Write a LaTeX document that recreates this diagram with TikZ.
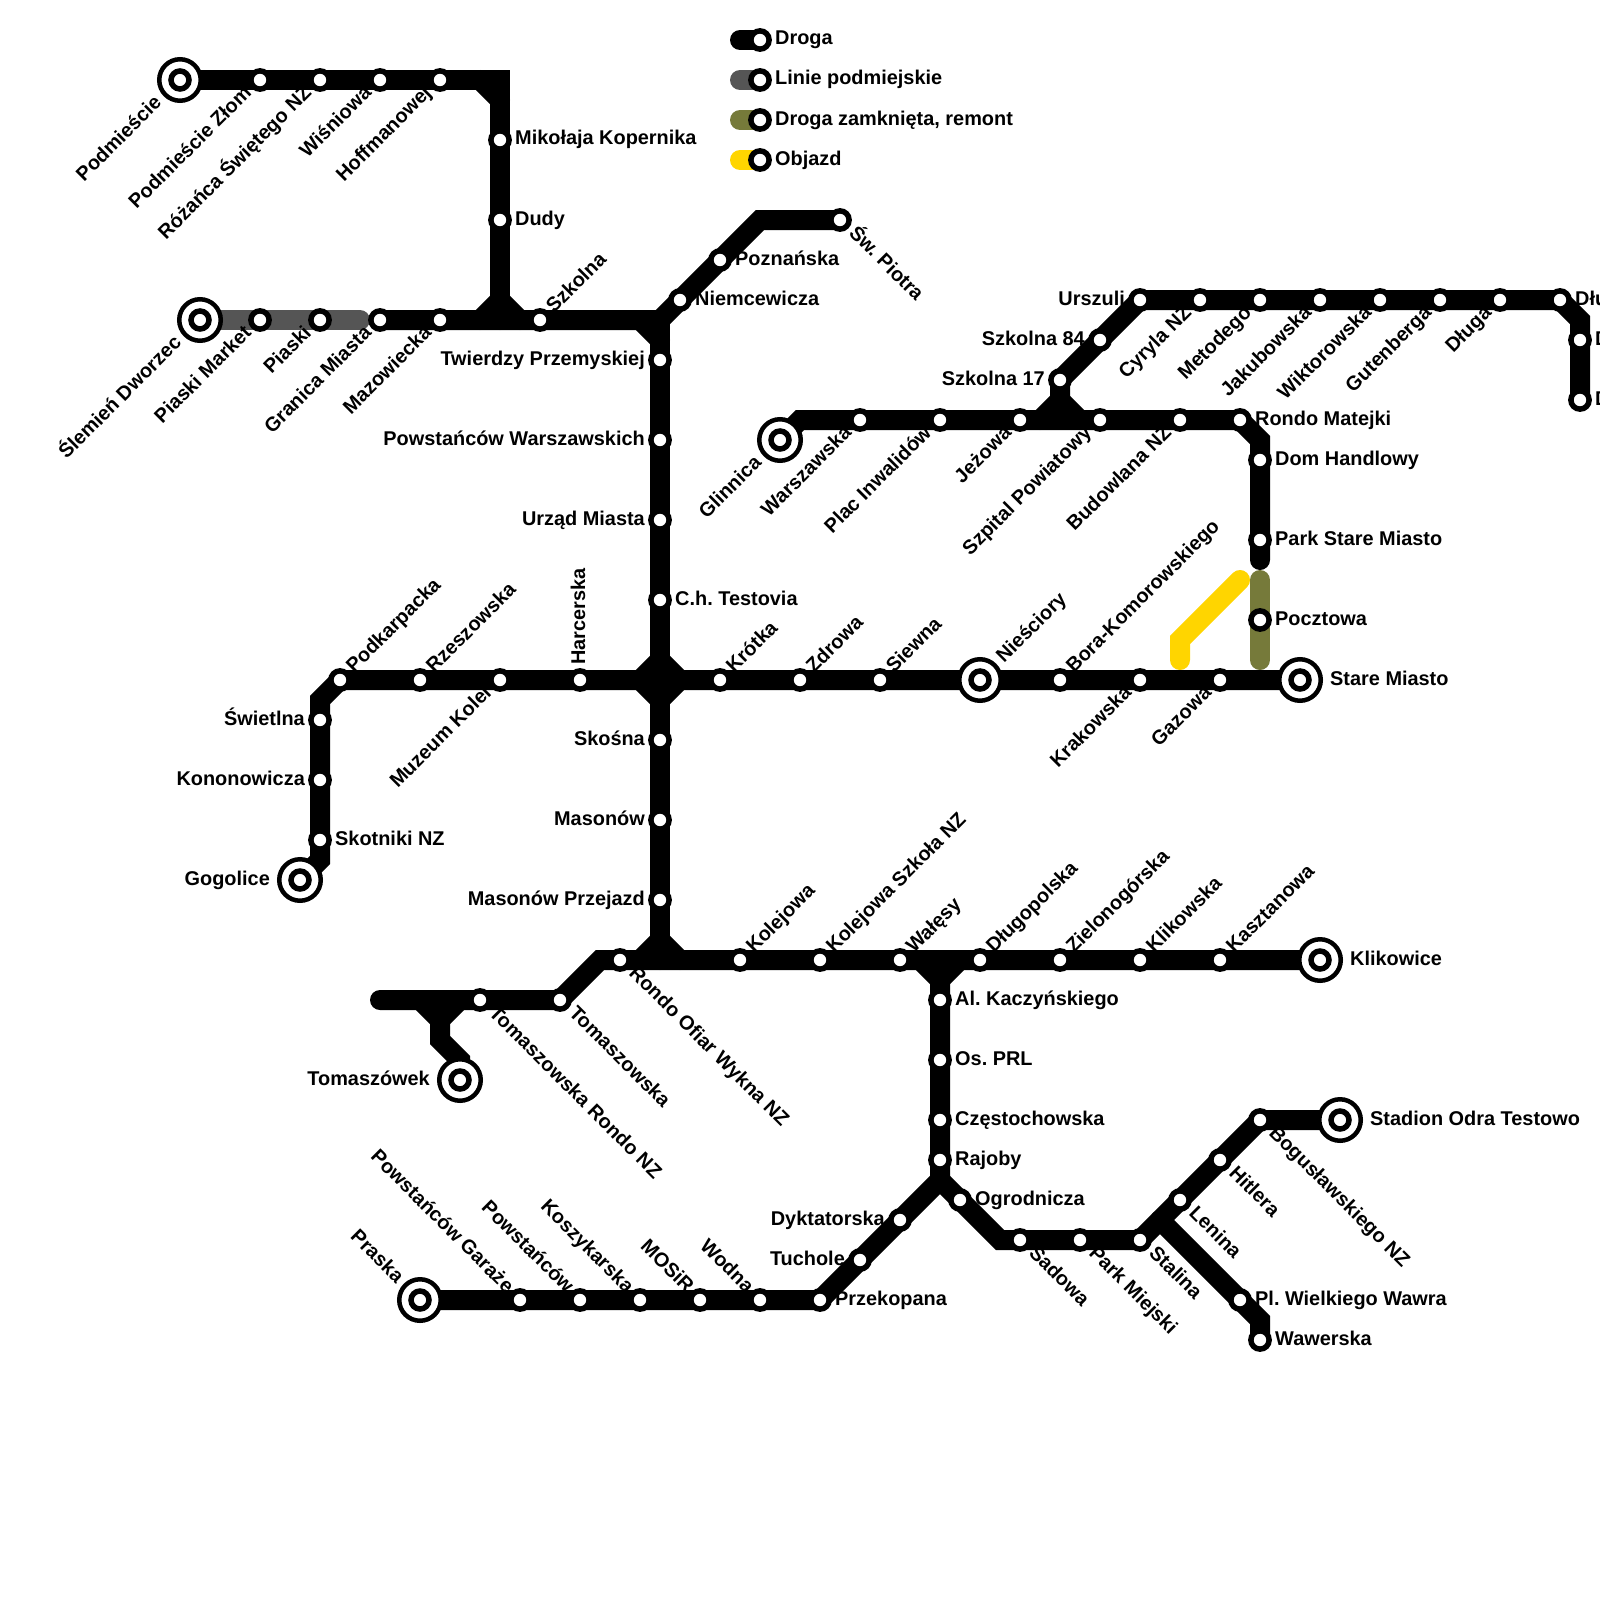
\documentclass[tikz,border=0pt]{standalone}
\usepackage{fontspec}
\setmainfont{Liberation Sans}
\usetikzlibrary{backgrounds}
\definecolor{suburb}{RGB}{85, 85, 85}
\definecolor{closed}{RGB}{118, 122, 58}
\definecolor{detour}{RGB}{255, 213, 0}
\begin{document}
\begin{tikzpicture}[
    x=1pt, y=-1pt,
    road/.style={line width=20pt, line cap=round, line join=miter, draw=black},
    stn/.style={circle, draw=black, fill=white, line width=5.5pt, minimum size=18.25pt, inner sep=0pt},
    term/.style={circle, draw=black, fill=white, line width=4.5pt, minimum size=41.5pt, inner sep=0pt},
    core/.style={circle, draw=black, fill=white, line width=5.5pt, minimum size=18pt, inner sep=0pt},
    lb/.style={inner sep=0pt, font=\fontsize{19.9}{24}\selectfont\bfseries\frenchspacing},
    lbR/.style={lb, xshift=15pt, yshift=-5pt, anchor=base west},
    lbL/.style={lb, xshift=-15pt, yshift=-5pt, anchor=base east},
    lbRt/.style={lb, xshift=30pt, yshift=-5pt, anchor=base west},
    lbLt/.style={lb, xshift=-30pt, yshift=-5pt, anchor=base east},
    lbU/.style={lb, xshift=5pt, yshift=15pt, rotate=90, anchor=base west},
    lbUR/.style={lb, xshift=14pt, yshift=6pt, rotate=45, anchor=base west},
    lbDL/.style={lb, xshift=-7.5pt, yshift=-14pt, rotate=45, anchor=base east},
    lbDR/.style={lb, xshift=8pt, yshift=-14pt, rotate=-45, anchor=base west},
    lbUL/.style={lb, xshift=-14pt, yshift=6pt, rotate=-45, anchor=base east},
    lbURt/.style={lb, xshift=24pt, yshift=16pt, rotate=45, anchor=base west},
    lbDLt/.style={lb, xshift=-17.5pt, yshift=-24pt, rotate=45, anchor=base east},
    lbULt/.style={lb, xshift=-24pt, yshift=16pt, rotate=-45, anchor=base east}
  ]

  \useasboundingbox (0,0) rectangle (1600,1600);

  % Terminals
  \foreach \id/\x/\y/\pos/\name in {%
    podm/180/80/lbDLt/Podmieście,
    slem/200/320/lbDLt/Ślemień Dworzec,
    nies/980/680/lbURt/Nieściory,
    star/1300/680/lbRt/Stare Miasto,
    gogo/300/880/lbLt/Gogolice,
    glin/780/440/lbDLt/Glinnica,
    klik/1320/960/lbRt/Klikowice,
    toma/460/1080/lbLt/Tomaszówek,
    pras/420/1300/lbULt/Praska,
    stad/1340/1120/lbRt/Stadion Odra Testowo} {
    \node[term] (\id) at (\x,\y) {};
    \node[core] (\id c) at (\x,\y) {};
    \node[\pos] (\id l) at (\x,\y) {\name};
  }

  % Stations
  \foreach \id/\x/\y/\pos/\name in {%
    zlom/260/80/lbDL/Podmieście Złom,
    roza/320/80/lbDL/Różańca Świętego NZ,
    wisn/380/80/lbDL/Wiśniowa,
    hoff/440/80/lbDL/Hoffmanowej,
    kope/500/140/lbR/Mikołaja Kopernika,
    dudy/500/220/lbR/Dudy,
    szko/540/320/lbUR/Szkolna,
    pmar/260/320/lbDL/Piaski Market,
    pias/320/320/lbDL/Piaski,
    gran/380/320/lbDL/Granica Miasta,
    mazo/440/320/lbDL/Mazowiecka,
    niem/680/300/lbR/Niemcewicza,
    pozn/720/260/lbR/Poznańska,
    piot/840/220/lbDR/Św. Piotra,
    twie/660/360/lbL/Twierdzy Przemyskiej,
    pwar/660/440/lbL/Powstańców Warszawskich,
    urza/660/520/lbL/Urząd Miasta,
    test/660/600/lbR/C.h. Testovia,
    skos/660/740/lbL/Skośna,
    maso/660/820/lbL/Masonów,
    mprz/660/900/lbL/Masonów Przejazd,
    podk/340/680/lbUR/Podkarpacka,
    rzes/420/680/lbUR/Rzeszowska,
    muze/500/680/lbDL/Muzeum Kolei,
    harc/580/680/lbU/Harcerska,
    krot/720/680/lbUR/Krótka,
    zdro/800/680/lbUR/Zdrowa,
    siew/880/680/lbUR/Siewna,
    bora/1060/680/lbUR/Bora-Komorowskiego,
    krak/1140/680/lbDL/Krakowska,
    gazo/1220/680/lbDL/Gazowa,
    swie/320/720/lbL/Świetlna,
    kono/320/780/lbL/Kononowicza,
    skot/320/840/lbR/Skotniki NZ,
    wars/860/420/lbDL/Warszawska,
    plac/940/420/lbDL/Plac Inwalidów,
    jezo/1020/420/lbDL/Jeżowa,
    szpi/1100/420/lbDL/Szpital Powiatowy,
    budo/1180/420/lbDL/Budowlana NZ,
    rmat/1240/420/lbR/Rondo Matejki,
    domh/1260/460/lbR/Dom Handlowy,
    park/1260/540/lbR/Park Stare Miasto,
    pocz/1260/620/lbR/Pocztowa,
    sz17/1060/380/lbL/Szkolna 17,
    sz84/1100/340/lbL/Szkolna 84,
    ursz/1140/300/lbL/Urszuli,
    cyry/1200/300/lbDL/Cyryla NZ,
    meto/1260/300/lbDL/Metodego,
    jaku/1320/300/lbDL/Jakubowska,
    wikt/1380/300/lbDL/Wiktorowska,
    gute/1440/300/lbDL/Gutenberga,
    dlug/1500/300/lbDL/Długa,
    dlua/1560/300/lbR/Dłu,
    dlub/1580/340/lbR/D,
    dluc/1580/400/lbR/D,
    rofi/620/960/lbDR/Rondo Ofiar Wykna NZ,
    kole/740/960/lbUR/Kolejowa,
    ksz/820/960/lbUR/Kolejowa Szkoła NZ,
    wale/900/960/lbUR/Wałęsy,
    dopo/980/960/lbUR/Długopolska,
    ziel/1060/960/lbUR/Zielonogórska,
    klk/1140/960/lbUR/Klikowska,
    kasz/1220/960/lbUR/Kasztanowa,
    trnz/480/1000/lbDR/Tomaszowska Rondo NZ,
    tosk/560/1000/lbDR/Tomaszowska,
    kacz/940/1000/lbR/Al. Kaczyńskiego,
    prl/940/1060/lbR/Os. PRL,
    czes/940/1120/lbR/Częstochowska,
    rajo/940/1160/lbR/Rajoby,
    dykt/900/1220/lbL/Dyktatorska,
    tuch/860/1260/lbL/Tuchole,
    prze/820/1300/lbR/Przekopana,
    wodn/760/1300/lbUL/Wodna,
    mosi/700/1300/lbUL/MOSiR,
    kosz/640/1300/lbUL/Koszykarska,
    powc/580/1300/lbUL/Powstańców,
    powg/520/1300/lbUL/Powstańców Garaże,
    ogro/960/1200/lbR/Ogrodnicza,
    sado/1020/1240/lbDR/Sadowa,
    pmie/1080/1240/lbDR/Park Miejski,
    stal/1140/1240/lbDR/Stalina,
    leni/1180/1200/lbDR/Lenina,
    hitl/1220/1160/lbDR/Hitlera,
    bogu/1260/1120/lbDR/Bogusławskiego NZ,
    wawr/1240/1300/lbR/Pl. Wielkiego Wawra,
    wawe/1260/1340/lbR/Wawerska} {
    \node[stn] (\id) at (\x,\y) {};
    \node[\pos] (\id l) at (\x,\y) {\name};
  }

  % Bends and junctions
  \foreach \id/\x/\y in {%
    a1/480/80, a2/500/80, a3/500/100, a4/480/320, a5/500/300, a6/500/320, a7/520/320,
    b1/640/320, b2/660/320, b3/660/340, b4/760/220,
    c1/640/680, c2/660/660, c3/680/680, c4/660/700, c5/320/700,
    d1/320/860, e1/800/420, e2/1260/440, e3/1260/560,
    f1/1040/420, f2/1060/400, f3/1080/420, f4/1580/320,
    g1/1260/580, g2/1260/660, h1/1240/580, h2/1180/640, h3/1180/660,
    i1/380/1000, i2/600/960, i3/640/960, i4/660/940, i5/680/960, i6/660/960,
    j1/920/960, j2/940/980, j3/960/960, j4/940/960, j5/940/1180,
    m1/420/1000, m2/440/1020, m3/460/1000, m4/440/1000, m5/440/1040, m6/460/1060,
    n1/1000/1240, n2/1160/1220, n3/1260/1320, s1/360/320} {
    \coordinate (\id) at (\x,\y);
  }

  % Legend
  \foreach \i/\col/\txt in {1/black/Droga, 2/suburb/Linie podmiejskie, 3/closed/{Droga zamknięta, remont}, 4/detour/Objazd} {
    \coordinate (leg\i) at (740,\i*40);
    \node[stn] (ls\i) at (760,\i*40) {};
    \node[lbR] (lt\i) at (760,\i*40) {\txt};
    \begin{scope}[on background layer]
      \draw[road, draw=\col] (leg\i) -- (ls\i.center);
    \end{scope}
  }

  \begin{scope}[on background layer]
    % Closed and detour
    \draw[road, draw=suburb] (slem.center) -- (s1);
    \draw[road, draw=closed] (g1) -- (g2);
    \draw[road, draw=detour] (h1) -- (h2) -- (h3);

    % Roads
    \draw[road] (podm.center) -- (a2) -- (a6);
    \draw[road] (a1) -- (a3);
    \draw[road] (a4) -- (a5) -- (a7);
    \draw[road] (gran.center) -- (b2) -- (b4) -- (piot.center);
    \draw[road] (b1) -- (b3);
    \draw[road] (b2) -- (i6);
    \draw[road] (gogo.center) -- (d1) -- (c5) -- (podk.center) -- (star.center);
    \draw[road] (c1) -- (c2) -- (c3) -- (c4) -- cycle;
    \draw[road] (glin.center) -- (e1) -- (rmat.center) -- (e2) -- (e3);
    \draw[road] (f1) -- (f2) -- (f3);
    \draw[road] (f2) -- (sz17.center) -- (ursz.center) -- (dlua.center) -- (f4) -- (dluc.center);
    \draw[road] (i1) -- (tosk.center) -- (i2) -- (klik.center);
    \draw[road] (i3) -- (i4) -- (i5);
    \draw[road] (j1) -- (j2) -- (j3);
    \draw[road] (j4) -- (j5) -- (prze.center) -- (pras.center);
    \draw[road] (j5) -- (n1) -- (stal.center) -- (bogu.center) -- (stad.center);
    \draw[road] (n2) -- (n3) -- (wawe.center);
    \draw[road] (m1) -- (m2) -- (m3);
    \draw[road] (m4) -- (m5) -- (m6) -- (toma.center);
  \end{scope}

\end{tikzpicture}
\end{document}
